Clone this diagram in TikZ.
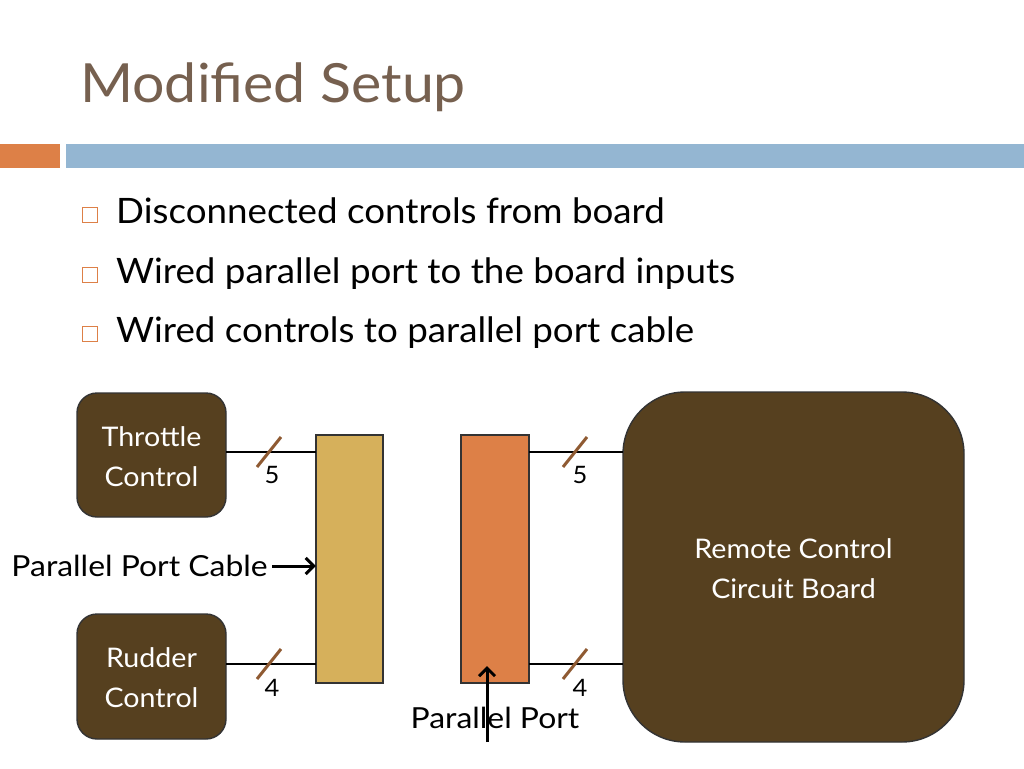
\documentclass[tikz,border=0pt]{standalone}
\usepackage{fontspec}
\setmainfont{Lato}
\newfontfamily\titlefont[FakeStretch=1.06]{Lato}
\newfontfamily\bulletfont[FakeStretch=1.05]{Lato}
\newfontfamily\boxfont[FakeStretch=1.06]{Lato}
\newfontfamily\labfont[FakeStretch=1.1]{Lato}
\usetikzlibrary{arrows.meta}
\definecolor{titlec}{HTML}{76604F}
\definecolor{orangec}{HTML}{DD8047}
\definecolor{bluec}{HTML}{94B6D2}
\definecolor{darkbrown}{HTML}{56401F}
\definecolor{tanc}{HTML}{D6B05B}
\definecolor{slashc}{HTML}{8F5A32}
\begin{document}
\begin{tikzpicture}[x=1pt,y=-1pt,
  titletext/.style={anchor=base west,inner sep=0pt,text=titlec,font=\titlefont\fontsize{54}{60}\selectfont},
  bullettext/.style={anchor=base west,inner sep=0pt,text=black,font=\bulletfont\fontsize{35}{40}\selectfont},
  bulletsq/.style={draw=orangec,line width=1.6pt,minimum size=15pt,inner sep=0pt},
  ctrlbox/.style={draw=black!80,line width=1.4pt,fill=darkbrown,rounded corners=20pt,inner sep=0pt},
  porttext/.style={text=white,font=\boxfont\fontsize{27}{40}\selectfont,align=center,inner sep=0pt},
  wire/.style={draw=black,line width=2.6pt},
  slash/.style={draw=slashc,line width=3pt},
  numlabel/.style={font=\boxfont\fontsize{24}{26}\selectfont,inner sep=0pt},
  plabel/.style={font=\labfont\fontsize{29}{32}\selectfont,inner sep=0pt},
  parrow/.style={draw=black,line width=3pt,-{Straight Barb[length=8pt,width=16pt,line width=3pt]}}
]
\useasboundingbox (0,0) rectangle (1024,768);
\fill[white] (0,0) rectangle (1024,768);
% title and bars
\node[titletext] (title) at (80,102) {Modified Setup};
\fill[orangec] (0,144) rectangle (60,168);
\fill[bluec] (66,144) rectangle (1024,168);
% bullets
\node[bulletsq] (s1) at (90,215) {};
\node[bulletsq] (s2) at (90,275) {};
\node[bulletsq] (s3) at (90,334) {};
\node[bullettext] (t1) at (116,223) {Disconnected controls from board};
\node[bullettext] (t2) at (116,283) {Wired parallel port to the board inputs};
\node[bullettext] (t3) at (116,342) {Wired controls to parallel port cable};
% boxes
\path[ctrlbox] (77,393) rectangle (226,517);
\node[porttext] (thr) at (151.5,457) {Throttle\\Control};
\coordinate (thrE) at (226,452);
\path[ctrlbox] (77,614) rectangle (226,739);
\node[porttext] (rud) at (151.5,678) {Rudder\\Control};
\coordinate (rudE) at (226,664);
\path[draw=black!80,line width=1.4pt,fill=tanc] (316,435) rectangle (383,683);
\node[inner sep=0pt,minimum width=67pt,minimum height=248pt] (cable) at (349.5,559) {};
\path[draw=black!80,line width=1.4pt,fill=orangec] (461,435) rectangle (529,683);
\node[inner sep=0pt,minimum width=68pt,minimum height=248pt] (port) at (495,559) {};
\path[ctrlbox,rounded corners=62pt] (623,392) rectangle (964,742);
\node[porttext] (board) at (793.5,569) {Remote Control\\Circuit Board};
% wires
\draw[wire] (thrE) -- (cable.west |- thrE);
\draw[wire] (rudE) -- (cable.west |- rudE);
\draw[wire] (port.east |- thrE) -- (623,452) coordinate (bW1);
\draw[wire] (port.east |- rudE) -- (623,664) coordinate (bW2);
% slashes
\draw[slash] (257,467) -- (281,437);
\draw[slash] (563,467) -- (587,437);
\draw[slash] (257,679) -- (281,649);
\draw[slash] (563,679) -- (587,649);
\node[numlabel] (n1) at (272,475) {5};
\node[numlabel] (n2) at (580,475) {5};
\node[numlabel] (n3) at (272,688) {4};
\node[numlabel] (n4) at (580,688) {4};
% labels
\node[plabel,anchor=east] (lcable) at (268,566) {Parallel Port Cable};
\draw[parrow] (lcable.east) ++(4,0) coordinate (la) -- (cable.west |- la);
\node[plabel] (lport) at (495,718) {Parallel Port};
\coordinate (pa) at (487,742);
\draw[parrow] (pa) -- (487,666);
\end{tikzpicture}
\end{document}
